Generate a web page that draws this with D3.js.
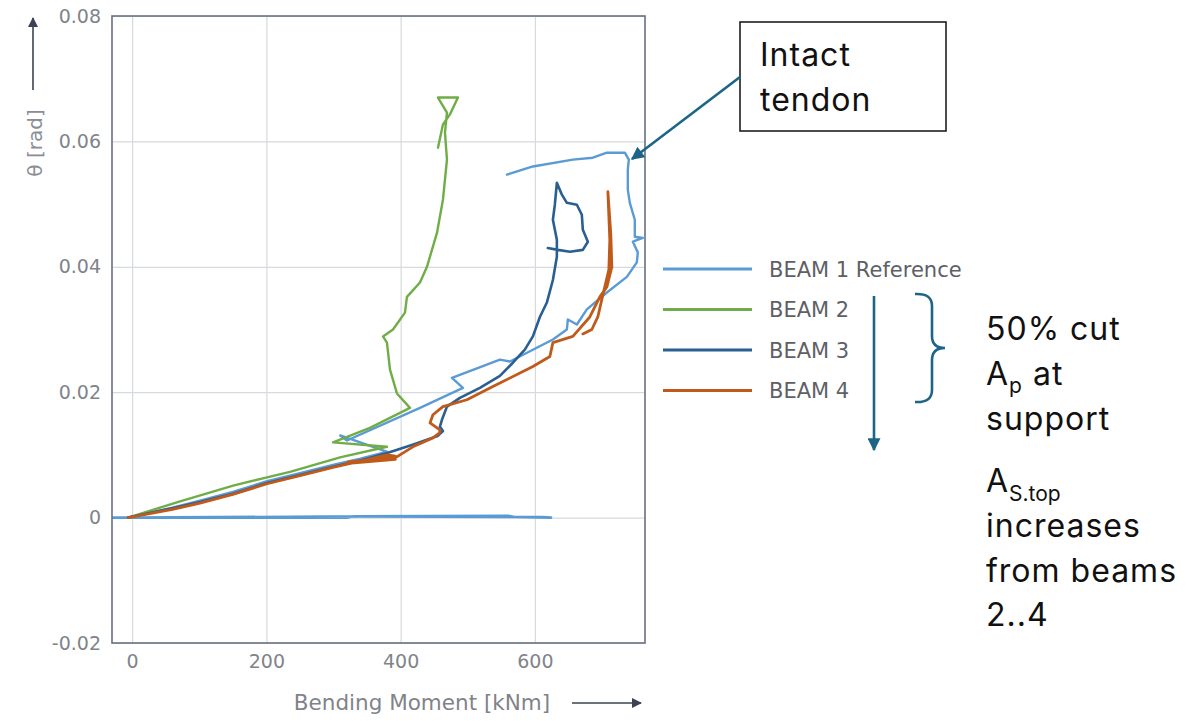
<!DOCTYPE html>
<html>
<head>
<meta charset="utf-8">
<script src="https://cdn.jsdelivr.net/npm/d3@7"></script>
<style>
  html, body { margin: 0; padding: 0; background: #ffffff; }
  svg { display: block; }
</style>
</head>
<body>
<svg id="chart" width="1198" height="721"></svg>
<script>
// Rotation θ [rad] versus bending moment [kNm] for four test beams.
// Each path is a list of [moment, rotation] readings in load order.

const seriesNames = ["BEAM 1 Reference", "BEAM 2", "BEAM 3", "BEAM 4"];
const seriesColors = ["#5b9bd5", "#70ad47", "#2a5f92", "#bf5a1a"];

const xTicks = [0, 200, 400, 600];
const yTicks = [-0.02, 0, 0.02, 0.04, 0.06, 0.08];
const yTickLabels = ["-0.02", "0", "0.02", "0.04", "0.06", "0.08"];

// BEAM 1: zero-offset readings along the axis, then the loading branch
const beam1Baseline = [
  [-30, 0], [320, 0], [330, 0.0002], [560, 0.0003], [570, 0.0001], [624, 0],
  [612, 0.0001], [340, 0.0002], [0, 0]
];
const beam1Path = [
  [-6, 0], [60, 0.0016], [101, 0.0027], [150, 0.0041], [201, 0.0058], [250, 0.0071],
  [299, 0.0084], [340, 0.0094], [380, 0.0105], [310, 0.0131], [320, 0.0123],
  [428.8, 0.0175], [492.8, 0.0207], [476.4, 0.0223], [547.9, 0.0252], [562.8, 0.0249],
  [626.8, 0.0284], [647.6, 0.0300], [649.1, 0.0316], [662.5, 0.0308], [677.4, 0.0332],
  [707.2, 0.0359], [737, 0.0384], [751.8, 0.0407], [753.3, 0.0423], [745.9, 0.0440],
  [760.8, 0.0446], [748.8, 0.0448], [748.8, 0.0475], [741.4, 0.0502], [738.4, 0.0523],
  [738.4, 0.0555], [739.9, 0.0571], [734, 0.0582], [707.2, 0.0582], [686.3, 0.0574],
  [656.5, 0.0571], [597, 0.0560], [558.3, 0.0547]
];

// BEAM 2
const beam2Path = [
  [-6, 0], [71.5, 0.0026], [150.4, 0.0051], [235.2, 0.0073], [309.7, 0.0096],
  [379.6, 0.0113], [299.2, 0.0120], [354.3, 0.0143], [413.9, 0.0175], [394.5, 0.0198],
  [384.1, 0.0236], [379.6, 0.0279], [373.7, 0.0289], [388.6, 0.0300], [406.4, 0.0327],
  [409.4, 0.0352], [428.8, 0.0375], [439.2, 0.0400], [454.1, 0.0454], [463, 0.0507],
  [469, 0.0571], [466, 0.0614], [469, 0.0646], [455.6, 0.0670], [485.3, 0.0670],
  [473.4, 0.0643], [463, 0.0627], [455.6, 0.0590]
];

// BEAM 3
const beam3Path = [
  [-6, 0], [60, 0.0015], [101, 0.0025], [150, 0.0038], [201, 0.0055], [250, 0.0068],
  [299, 0.0081], [340, 0.0091], [380, 0.0103], [420, 0.0117], [455, 0.0130],
  [463, 0.0138], [458.5, 0.0145], [461.5, 0.0156], [469, 0.0177], [488.3, 0.0191],
  [518.1, 0.0207], [547.9, 0.0226], [567.2, 0.0247], [585, 0.0268], [597, 0.0289],
  [607.4, 0.0320], [617.8, 0.0343], [626.8, 0.0379], [632.7, 0.0416], [632.7, 0.0443],
  [626.8, 0.0475], [629.7, 0.0499], [632.7, 0.0534], [640.2, 0.0515], [647.6, 0.0502],
  [662.5, 0.0499], [669.9, 0.0483], [671.4, 0.0459], [678.9, 0.0440], [671.4, 0.0427],
  [652.1, 0.0424], [634.2, 0.0427], [619.3, 0.0430]
];

// BEAM 4
const beam4Path = [
  [-6, 0], [60, 0.0013], [101, 0.0023], [150, 0.0037], [201, 0.0054], [250, 0.0067],
  [299, 0.0080], [340, 0.0090], [380, 0.0100], [392, 0.0098], [318, 0.0086],
  [392, 0.0093], [322, 0.0089], [393, 0.0096], [420, 0.0114], [448, 0.0127],
  [458, 0.0135], [458.5, 0.0140], [443.7, 0.0151], [448.1, 0.0164], [463, 0.0177],
  [498.7, 0.0188], [537.4, 0.0209], [597, 0.0241], [622.3, 0.0257], [626.8, 0.0279],
  [656.5, 0.0289], [681.8, 0.0320], [696.7, 0.0352], [707.2, 0.0368], [714.6, 0.0400],
  [713.1, 0.0451], [708.7, 0.0520], [711.6, 0.0443], [710.1, 0.0395], [699.7, 0.0348],
  [693.7, 0.0320], [684.8, 0.0300], [671.4, 0.0293]
];

const svg = d3.select("#chart");
const plot = { left: 112, top: 16, right: 645, bottom: 643 };

const x = d3.scaleLinear().domain([-30, 764]).range([plot.left, plot.right]);
const y = d3.scaleLinear().domain([-0.02, 0.08]).range([plot.bottom, plot.top]);

const axisFont = "'DejaVu Sans', 'Open Sans', sans-serif";
const noteFont = "Inter, Roboto, 'Noto Sans', sans-serif";

const defs = svg.append("defs");
defs.append("clipPath").attr("id", "plot-clip")
  .append("rect")
  .attr("x", plot.left).attr("y", plot.top)
  .attr("width", plot.right - plot.left).attr("height", plot.bottom - plot.top);

function arrowMarker(id, color, w, h) {
  defs.append("marker")
    .attr("id", id)
    .attr("viewBox", "0 0 10 10")
    .attr("refX", 9).attr("refY", 5)
    .attr("markerUnits", "userSpaceOnUse")
    .attr("markerWidth", w).attr("markerHeight", h)
    .attr("orient", "auto")
    .append("path")
    .attr("d", "M0,0 L10,5 L0,10 Z")
    .attr("fill", color);
}
arrowMarker("arrow-teal", "#1c6587", 14, 13);
arrowMarker("arrow-grey", "#3b4352", 13, 10);

// gridlines
svg.append("g")
  .attr("transform", `translate(0,${plot.bottom})`)
  .call(d3.axisBottom(x).tickValues(xTicks).tickSize(-(plot.bottom - plot.top)).tickFormat(""))
  .call(g => g.select(".domain").remove())
  .call(g => g.selectAll(".tick line").attr("stroke", "#d6d9de").attr("stroke-width", 1.2));

svg.append("g")
  .attr("transform", `translate(${plot.left},0)`)
  .call(d3.axisLeft(y).tickValues(yTicks).tickSize(-(plot.right - plot.left)).tickFormat(""))
  .call(g => g.select(".domain").remove())
  .call(g => g.selectAll(".tick line").attr("stroke", "#d6d9de").attr("stroke-width", 1.2));

// tick labels
svg.append("g")
  .attr("transform", `translate(0,${plot.bottom})`)
  .call(d3.axisBottom(x).tickValues(xTicks).tickSize(0).tickPadding(12).tickFormat(d3.format("d")))
  .call(g => g.select(".domain").remove())
  .call(g => g.selectAll("text")
    .attr("font-family", axisFont).attr("font-size", 19).attr("fill", "#80848a"));

svg.append("g")
  .attr("transform", `translate(${plot.left},0)`)
  .call(d3.axisLeft(y).tickValues(yTicks).tickSize(0).tickPadding(11)
    .tickFormat((d, i) => yTickLabels[i]))
  .call(g => g.select(".domain").remove())
  .call(g => g.selectAll("text")
    .attr("font-family", axisFont).attr("font-size", 19).attr("fill", "#80848a"));

// data lines
const line = d3.line().x(d => x(d[0])).y(d => y(d[1]));
const lines = svg.append("g").attr("clip-path", "url(#plot-clip)")
  .attr("fill", "none").attr("stroke-linejoin", "round").attr("stroke-linecap", "round");

lines.append("path").datum(beam1Baseline).attr("d", line)
  .attr("stroke", seriesColors[0]).attr("stroke-width", 2.6);
lines.append("path").datum(beam1Path).attr("d", line)
  .attr("stroke", seriesColors[0]).attr("stroke-width", 2.4);
lines.append("path").datum(beam2Path).attr("d", line)
  .attr("stroke", seriesColors[1]).attr("stroke-width", 2.4);
lines.append("path").datum(beam3Path).attr("d", line)
  .attr("stroke", seriesColors[2]).attr("stroke-width", 2.6);
lines.append("path").datum(beam4Path).attr("d", line)
  .attr("stroke", seriesColors[3]).attr("stroke-width", 2.8);

// plot frame
svg.append("rect")
  .attr("x", plot.left).attr("y", plot.top)
  .attr("width", plot.right - plot.left).attr("height", plot.bottom - plot.top)
  .attr("fill", "none").attr("stroke", "#687080").attr("stroke-width", 1.6);

// axis titles with arrows
svg.append("text")
  .attr("transform", `translate(42,143) rotate(-90)`)
  .attr("text-anchor", "middle")
  .attr("font-family", axisFont).attr("font-size", 20).attr("fill", "#8a8e94")
  .text("θ [rad]");
svg.append("line")
  .attr("x1", 33).attr("y1", 90).attr("x2", 33).attr("y2", 18)
  .attr("stroke", "#3b4352").attr("stroke-width", 1.6)
  .attr("marker-end", "url(#arrow-grey)");

svg.append("text")
  .attr("x", 422).attr("y", 710)
  .attr("text-anchor", "middle")
  .attr("font-family", axisFont).attr("font-size", 21.5).attr("fill", "#7f8389")
  .text("Bending Moment [kNm]");
svg.append("line")
  .attr("x1", 572).attr("y1", 703).attr("x2", 641).attr("y2", 703)
  .attr("stroke", "#3b4352").attr("stroke-width", 1.6)
  .attr("marker-end", "url(#arrow-grey)");

// legend
const legend = svg.append("g");
seriesNames.forEach((name, i) => {
  const ly = 269 + i * 40.5;
  legend.append("line")
    .attr("x1", 663).attr("x2", 752).attr("y1", ly).attr("y2", ly)
    .attr("stroke", seriesColors[i]).attr("stroke-width", 3);
  legend.append("text")
    .attr("x", 769).attr("y", ly + 7.5)
    .attr("font-family", axisFont).attr("font-size", 21).attr("fill", "#5d6066")
    .text(name);
});

// "Intact tendon" callout
svg.append("rect")
  .attr("x", 740).attr("y", 22).attr("width", 206).attr("height", 109)
  .attr("fill", "#ffffff").attr("stroke", "#111111").attr("stroke-width", 1.5);
svg.append("text")
  .attr("font-family", noteFont).attr("font-size", 32).attr("letter-spacing", 1)
  .attr("fill", "#111111")
  .selectAll("tspan").data(["Intact", "tendon"]).join("tspan")
  .attr("x", 760).attr("y", (d, i) => 66 + i * 45).text(d => d);
svg.append("line")
  .attr("x1", 740).attr("y1", 77).attr("x2", 632).attr("y2", 159)
  .attr("stroke", "#1c6587").attr("stroke-width", 2.6)
  .attr("marker-end", "url(#arrow-teal)");

// downward arrow beside beams 2..4
svg.append("line")
  .attr("x1", 874).attr("y1", 296).attr("x2", 874).attr("y2", 450)
  .attr("stroke", "#1c6587").attr("stroke-width", 2.6)
  .attr("marker-end", "url(#arrow-teal)");

// curly brace grouping beams 2..4
svg.append("path")
  .attr("d", "M915,294 Q932,293 932,306 L932,336 Q932,348 945,348 Q932,348 932,360 L932,390 Q932,403 915,402")
  .attr("fill", "none").attr("stroke", "#1c6587").attr("stroke-width", 2.6);

// side notes
const note1 = svg.append("text")
  .attr("font-family", noteFont).attr("font-size", 32).attr("letter-spacing", 1)
  .attr("fill", "#111111");
note1.append("tspan").attr("x", 986).attr("y", 340).text("50% cut");
note1.append("tspan").attr("x", 986).attr("y", 385).text("A");
note1.append("tspan").attr("font-size", 21).attr("dy", 8).text("p");
note1.append("tspan").attr("dy", -8).text(" at");
note1.append("tspan").attr("x", 986).attr("y", 430).text("support");

const note2 = svg.append("text")
  .attr("font-family", noteFont).attr("font-size", 32).attr("letter-spacing", 1)
  .attr("fill", "#111111");
note2.append("tspan").attr("x", 986).attr("y", 492).text("A");
note2.append("tspan").attr("font-size", 21).attr("letter-spacing", 0).attr("dy", 9).text("S.top");
["increases", "from beams", "2..4"].forEach((t, i) => {
  note2.append("tspan").attr("x", 986).attr("y", 537 + i * 44.5).text(t);
});
</script>
</body>
</html>
